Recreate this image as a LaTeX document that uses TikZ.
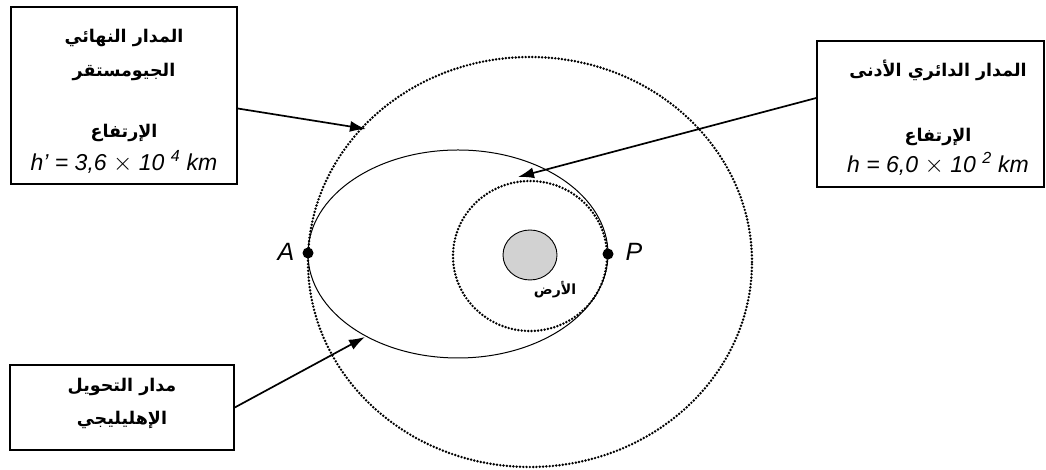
\documentclass[tikz,border=0pt]{standalone}
\usepackage{fontspec}
\setmainfont{Liberation Sans}
\newfontfamily\arabicfont[Script=Arabic]{DejaVu Sans}
\TeXXeTstate=1
\usetikzlibrary{arrows.meta}
\tikzset{
  box/.style={draw=black, line width=1.5pt, inner sep=0pt},
  dotline/.style={line width=2.7pt, dash pattern=on 0pt off 3.3pt, line cap=round},
  orbit/.style={line width=1pt},
  pointer/.style={line width=1.7pt, -{Latex[length=16pt,width=11pt]}},
  artext/.style={font=\arabicfont\bfseries\fontsize{17.5}{20}\selectfont, inner sep=0pt},
  latext/.style={font=\itshape\fontsize{23}{26}\selectfont, inner sep=0pt},
  pointlbl/.style={font=\itshape\fontsize{25}{28}\selectfont, inner sep=0pt},
  dot/.style={circle, fill=black, inner sep=0pt, minimum size=11pt},
}
\begin{document}
\begin{tikzpicture}[x=1pt,y=1pt]
\useasboundingbox (0,0) rectangle (1046,470);
% orbits
\draw[dotline] (530,208) ellipse [x radius=222, y radius=205];
\draw[dotline] (530,214) ellipse [x radius=77, y radius=75];
\draw[orbit] (458,216) ellipse [x radius=150, y radius=104];
\draw[line width=0.9pt, fill=gray!35] (530,215) ellipse [x radius=27, y radius=25];
\node[artext, font=\arabicfont\bfseries\fontsize{14}{16}\selectfont] (earth) at (555,180) {\beginR الأرض\endR};
% points
\node[dot] (A) at (308,217) {};
\node[dot] (P) at (608,216) {};
\node[pointlbl] (Alab) at (286,218) {A};
\node[pointlbl] (Plab) at (634,218) {P};
% boxes
\node[box, minimum width=226pt, minimum height=177pt] (b1) at (124,374.5) {};
\node[box, minimum width=227pt, minimum height=146pt] (b2) at (930.5,356) {};
\node[box, minimum width=224pt, minimum height=85pt] (b3) at (122,62.5) {};
% box texts
\node[artext] (t11) at (124,432) {\beginR المدار النهائي\endR};
\node[artext] (t12) at (124,398) {\beginR الجيومستقر\endR};
\node[artext] (t13) at (124,337) {\beginR الإرتفاع\endR};
\node[latext] (t14) at (124,308) {h' = 3,6 $\times$ 10 \textsuperscript{4} km};
\node[artext] (t21) at (938,400) {\beginR المدار الدائري الأدنى\endR};
\node[artext] (t22) at (938,333) {\beginR الإرتفاع\endR};
\node[latext] (t23) at (938,306) {h = 6,0 $\times$ 10 \textsuperscript{2} km};
\node[artext] (t31) at (122,83) {\beginR مدار التحويل\endR};
\node[artext] (t32) at (122,50) {\beginR الإهليليجي\endR};
% arrow tips
\coordinate (tip1) at (366,341);
\coordinate (tip2) at (518,293);
\coordinate (tip3) at (365,133);
\draw[pointer] ([yshift=-13pt]b1.east) -- (tip1);
\draw[pointer] ([yshift=16pt]b2.west) -- (tip2);
\draw[pointer] (b3.east) -- (tip3);
\end{tikzpicture}
\end{document}
